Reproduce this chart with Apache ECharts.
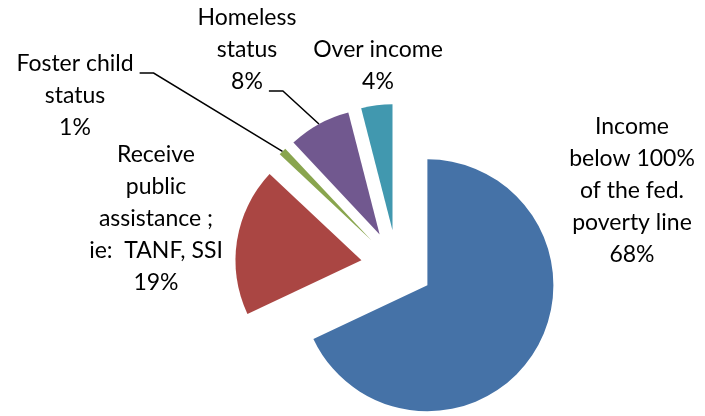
<!DOCTYPE html>
<html><head><meta charset="utf-8">
<script src="https://cdn.jsdelivr.net/npm/echarts@6/dist/echarts.min.js"></script>
<style>html,body{margin:0;padding:0;background:#fff}#c{width:705px;height:416px}</style>
</head><body><div id="c"></div>
<script>
const categories = [
  "Income\nbelow 100%\nof the fed.\npoverty line",
  "Receive\npublic\nassistance ;\nie:  TANF, SSI",
  "Foster child\nstatus",
  "Homeless\nstatus",
  "Over income"
];
const values = [68, 19, 1, 8, 4];
const colors = ["#4572A7", "#AA4643", "#89A54E", "#71588F", "#4198AF"];
// label centre positions and which text line the leader line attaches to
const labelPos = [[632, 191], [156, 219], [75, 96], [247, 50], [378, 66]];
const attachLine = [null, null, 0, 2, null];

const FONT = 'Lato';
const FS = 23, LH = 32;
const total = values.reduce((a, b) => a + b, 0);
const labelText = i => categories[i] + '\n' + Math.round(values[i] / total * 100) + '%';

const ctx = document.createElement('canvas').getContext('2d');
ctx.font = FS + 'px ' + FONT;

const chart = echarts.init(document.getElementById('c'), null, {renderer: 'canvas'});
chart.setOption({
  animation: false,
  tooltip: {show: false},
  series: [{
    // exploded slices
    type: 'pie',
    center: [397, 266],
    radius: 126,
    startAngle: 90,
    clockwise: true,
    selectedMode: 'multiple',
    selectedOffset: 36,
    silent: true,
    emphasis: {disabled: true},
    label: {show: false},
    labelLine: {show: false},
    data: categories.map((c, i) => ({
      name: c, value: values[i], selected: true,
      itemStyle: {color: colors[i]},
      select: {itemStyle: {color: colors[i]}}
    }))
  }, {
    // label carrier: same angles, outer edge at the exploded arc
    type: 'pie',
    center: [397, 266],
    radius: 162,
    startAngle: 90,
    clockwise: true,
    selectedMode: false,
    silent: true,
    z: 3,
    avoidLabelOverlap: false,
    emphasis: {disabled: true},
    itemStyle: {color: 'rgba(0,0,0,0)'},
    label: {
      show: true,
      position: 'outside',
      fontFamily: FONT,
      fontSize: FS,
      lineHeight: LH,
      color: '#000',
      align: 'center',
      formatter: p => labelText(p.dataIndex)
    },
    labelLine: {show: true, length: 10, length2: 14, lineStyle: {color: '#000', width: 1.5}},
    labelLayout: p => {
      const i = p.dataIndex;
      const [x, y] = labelPos[i];
      const out = {x: x, y: y, align: 'center', verticalAlign: 'middle'};
      const li = attachLine[i];
      if (li != null && p.labelLinePoints) {
        const lines = labelText(i).split('\n');
        const h = lines.length * LH;
        const w = ctx.measureText(lines[li]).width;
        const ly = y - h / 2 + LH * li + LH / 2 + 9;
        const lx = x + w / 2 + 6;
        out.labelLinePoints = [p.labelLinePoints[0], [lx + 14, ly], [lx, ly]];
      }
      return out;
    },
    data: categories.map((c, i) => ({
      name: c, value: values[i],
      labelLine: {show: attachLine[i] != null}
    }))
  }]
});
</script></body></html>
